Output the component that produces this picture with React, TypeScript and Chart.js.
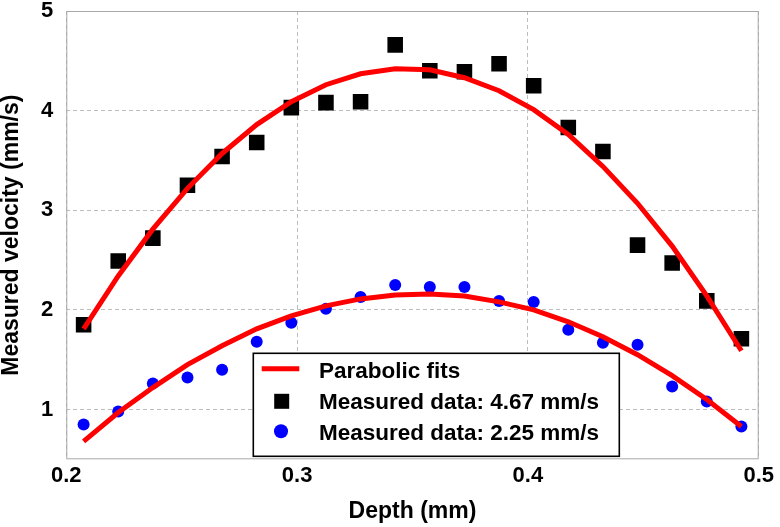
import { useEffect, useRef } from "react";
import { Chart, registerables } from "chart.js";

Chart.register(...registerables);

const depth = [0.2075, 0.2225, 0.2375, 0.2525, 0.2675, 0.2825, 0.2975, 0.3125, 0.3275, 0.3425, 0.3575, 0.3725, 0.3875, 0.4025, 0.4175, 0.4325, 0.4475, 0.4625, 0.4775, 0.4925];
const measuredHigh = [1.85, 2.49, 2.72, 3.25, 3.54, 3.68, 4.03, 4.08, 4.09, 4.66, 4.40, 4.39, 4.47, 4.25, 3.83, 3.59, 2.65, 2.47, 2.09, 1.71];
const measuredLow = [0.85, 0.98, 1.26, 1.32, 1.40, 1.68, 1.87, 2.01, 2.13, 2.25, 2.23, 2.23, 2.09, 2.08, 1.80, 1.67, 1.65, 1.23, 1.08, 0.83];
const fitHigh = [1.81, 2.34, 2.81, 3.22, 3.57, 3.86, 4.09, 4.26, 4.37, 4.42, 4.41, 4.33, 4.20, 4.01, 3.76, 3.44, 3.07, 2.64, 2.14, 1.59];
const fitLow = [0.68, 0.97, 1.22, 1.45, 1.64, 1.81, 1.94, 2.04, 2.11, 2.15, 2.16, 2.14, 2.08, 2.00, 1.88, 1.73, 1.55, 1.34, 1.10, 0.83];
const xTicks = [0.2, 0.3, 0.4, 0.5];
const yTicks = [1, 2, 3, 4, 5];
const legendLabels = ["Parabolic fits", "Measured data: 4.67 mm/s", "Measured data: 2.25 mm/s"];
const xTitle = "Depth (mm)";
const yTitle = "Measured velocity (mm/s)";

const FONT = "'Liberation Sans', Arial, Helvetica, sans-serif";
const RED = "#ff0000";
const BLUE = "#0000ff";

const pts = (ys: number[]) => depth.map((x, i) => ({ x, y: ys[i] }));

const framePlugin = {
  id: "frame",
  beforeDatasetsDraw(chart: any) {
    const { ctx, chartArea: a } = chart;
    ctx.save();
    ctx.strokeStyle = "#a8a8a8";
    ctx.lineWidth = 1;
    ctx.setLineDash([]);
    ctx.strokeRect(a.left + 0.5, a.top + 0.5, a.right - a.left - 1, a.bottom - a.top - 1);
    ctx.restore();
  },
};

const legendPlugin = {
  id: "boxLegend",
  afterDatasetsDraw(chart: any) {
    const { ctx, chartArea: a } = chart;
    const x0 = a.left + 187;
    const y0 = a.bottom - 106;
    const bw = 366;
    const bh = 103;
    ctx.save();
    ctx.fillStyle = "#ffffff";
    ctx.fillRect(x0, y0, bw, bh);
    ctx.strokeStyle = "#000000";
    ctx.lineWidth = 1.6;
    ctx.strokeRect(x0, y0, bw, bh);
    ctx.strokeStyle = RED;
    ctx.lineWidth = 5;
    ctx.beginPath();
    ctx.moveTo(x0 + 8.4, y0 + 15.5);
    ctx.lineTo(x0 + 46, y0 + 15.5);
    ctx.stroke();
    ctx.fillStyle = "#000000";
    ctx.fillRect(x0 + 28.4 - 7.5, y0 + 48 - 7.5, 15, 15);
    ctx.fillStyle = BLUE;
    ctx.beginPath();
    ctx.arc(x0 + 27.7, y0 + 78, 7, 0, Math.PI * 2);
    ctx.fill();
    ctx.fillStyle = "#000000";
    ctx.font = `bold 22.5px ${FONT}`;
    ctx.textAlign = "left";
    ctx.textBaseline = "alphabetic";
    const baselines = [24.3, 55.9, 86.2];
    legendLabels.forEach((t, i) => ctx.fillText(t, x0 + 65.7, y0 + baselines[i]));
    ctx.restore();
  },
};

export default function App() {
  const ref = useRef<HTMLCanvasElement | null>(null);

  useEffect(() => {
    if (!ref.current) return;
    const chart = new Chart(ref.current, {
      type: "scatter",
      data: {
        datasets: [
          {
            label: legendLabels[0],
            data: pts(fitHigh),
            showLine: true,
            borderColor: RED,
            backgroundColor: RED,
            borderWidth: 5,
            pointRadius: 0,
            tension: 0,
          },
          {
            label: legendLabels[0],
            data: pts(fitLow),
            showLine: true,
            borderColor: RED,
            backgroundColor: RED,
            borderWidth: 5,
            pointRadius: 0,
            tension: 0,
          },
          {
            label: legendLabels[1],
            data: pts(measuredHigh),
            pointStyle: "rect",
            pointRadius: 11,
            pointBorderWidth: 0,
            backgroundColor: "#000000",
            borderColor: "#000000",
          },
          {
            label: legendLabels[2],
            data: pts(measuredLow),
            pointStyle: "circle",
            pointRadius: 6,
            pointBorderWidth: 0,
            backgroundColor: BLUE,
            borderColor: BLUE,
          },
        ],
      },
      options: {
        animation: false,
        responsive: false,
        layout: { padding: { left: 0, top: 0, right: 18, bottom: 0 } },
        plugins: {
          legend: { display: false },
          tooltip: { enabled: false },
        },
        scales: {
          x: {
            type: "linear",
            min: 0.2,
            max: 0.5,
            afterBuildTicks: (s: any) => {
              s.ticks = xTicks.map((v) => ({ value: v }));
            },
            afterFit: (s: any) => {
              s.height = 67.7;
            },
            ticks: {
              color: "#000000",
              font: { family: FONT, size: 22, weight: "bold", lineHeight: 1 },
              padding: 6,
              maxRotation: 0,
              callback: (v: any) => Number(v).toFixed(1),
            },
            grid: { color: "#bdbdbd", lineWidth: 1, drawTicks: false },
            border: { display: false, dash: [4, 3] },
            title: {
              display: true,
              text: xTitle,
              color: "#000000",
              font: { family: FONT, size: 23, weight: "bold", lineHeight: 1 },
              padding: { top: 0, bottom: 4 },
            },
          },
          y: {
            type: "linear",
            min: 0.5,
            max: 5,
            afterBuildTicks: (s: any) => {
              s.ticks = yTicks.map((v) => ({ value: v }));
            },
            afterFit: (s: any) => {
              s.width = 66.3;
              s.paddingTop = 10.7;
            },
            ticks: {
              color: "#000000",
              font: { family: FONT, size: 22, weight: "bold", lineHeight: 1 },
              padding: 13,
              callback: (v: any) => String(v),
            },
            grid: { color: "#bdbdbd", lineWidth: 1, drawTicks: false },
            border: { display: false, dash: [4, 3] },
            title: {
              display: true,
              text: yTitle,
              color: "#000000",
              font: { family: FONT, size: 23, weight: "bold", lineHeight: 1 },
              padding: { top: 0, bottom: 0 },
            },
          },
        },
      },
      plugins: [framePlugin, legendPlugin],
    } as any);
    return () => chart.destroy();
  }, []);

  return (
    <div style={{ position: "absolute", left: 0, top: 0, width: 780, height: 527, background: "#ffffff" }}>
      <canvas ref={ref} width={780} height={527} style={{ display: "block" }} />
    </div>
  );
}
